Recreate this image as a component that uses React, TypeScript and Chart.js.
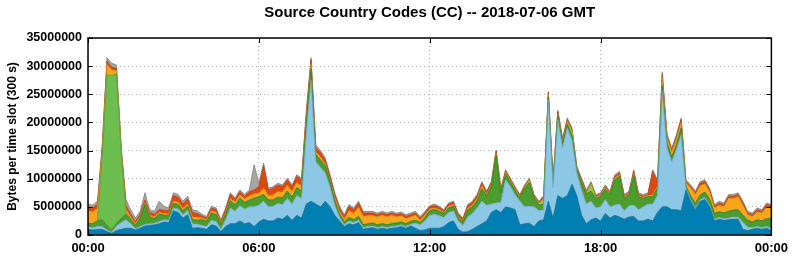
import React, { useEffect, useRef } from 'react';
import { Chart, registerables } from 'chart.js';

Chart.register(...registerables);

// 10-minute slots over the day, 00:00 .. 24:00 (145 points)
const timeLabels: string[] = [];
for (let i = 0; i <= 144; i++) {
  const m = (i * 10) % 1440;
  const h = Math.floor(m / 60);
  const mm = m % 60;
  timeLabels.push(`${String(h).padStart(2, '0')}:${String(mm).padStart(2, '0')}`);
}

const yTickValues = [0, 5000000, 10000000, 15000000, 20000000, 25000000, 30000000, 35000000];

// values in millions of bytes per 300 s slot
const darkBlue = [
  1.0, 0.9, 1.0, 1.0, 0.6, 0.3, 0.8, 1.0, 1.2, 1.2, 0.9, 1.2,
  1.6, 1.7, 1.8, 2.0, 2.3, 2.2, 4.3, 4.0, 3.0, 3.6, 1.2, 1.3,
  1.2, 1.0, 1.8, 1.6, 0.6, 1.5, 2.0, 2.0, 2.5, 2.0, 2.2, 1.5,
  2.3, 2.8, 2.5, 2.5, 3.0, 2.8, 3.5, 2.6, 3.5, 3.0, 5.5, 6.0,
  5.5, 5.0, 6.0, 5.0, 3.5, 2.5, 1.5, 2.0, 1.8, 2.2, 1.0, 1.2,
  1.3, 1.0, 1.2, 1.0, 1.2, 1.3, 1.5, 1.2, 1.6, 1.2, 0.8, 0.9,
  1.2, 1.2, 1.2, 1.5, 2.2, 2.5, 1.0, 0.5, 0.6, 1.0, 1.5, 2.0,
  2.5, 4.0, 4.5, 4.0, 5.0, 4.8, 4.5, 1.8, 2.0, 2.1, 1.5, 2.5,
  2.7, 6.0, 3.0, 7.0, 6.5, 7.0, 9.0, 7.0, 3.5, 2.0, 2.7, 3.0,
  2.5, 3.8, 3.0, 3.5, 3.2, 2.8, 3.2, 3.3, 2.5, 2.5, 2.8, 2.5,
  4.0, 5.0, 5.0, 4.5, 4.5, 4.3, 8.0, 6.0, 4.5, 6.0, 6.3, 5.0,
  2.5, 2.8, 2.6, 2.7, 2.8, 2.8, 1.0, 0.8, 1.0, 1.2, 1.0, 1.2,
  0.8,
];

const lightBlue = [
  0.4, 0.4, 0.5, 0.5, 0.3, 0.2, 0.8, 1.2, 1.5, 0.8, 0.2, 0.3,
  0.3, 0.3, 0.3, 0.4, 0.4, 0.4, 0.5, 0.6, 0.6, 0.8, 0.8, 0.6,
  0.5, 0.5, 0.8, 0.8, 0.4, 1.2, 2.8, 2.2, 2.7, 2.6, 2.8, 3.5,
  3.0, 3.2, 2.5, 2.6, 2.6, 2.6, 3.0, 2.9, 3.5, 3.5, 12.5, 21.5,
  7.5, 7.0, 5.0, 3.5, 1.8, 0.6, 0.3, 0.5, 0.4, 0.4, 0.3, 0.3,
  0.3, 0.3, 0.3, 0.3, 0.3, 0.3, 0.3, 0.3, 0.3, 0.9, 1.0, 1.6,
  2.3, 2.5, 2.2, 1.6, 1.8, 1.8, 1.5, 1.2, 2.6, 2.8, 3.3, 4.0,
  2.8, 1.5, 1.2, 1.8, 4.8, 3.8, 2.6, 4.2, 3.0, 3.0, 3.5, 1.8,
  1.8, 18.0, 5.5, 13.5, 9.0, 12.0, 7.8, 4.0, 4.5, 3.5, 3.3, 1.8,
  2.5, 2.5, 2.0, 1.8, 2.3, 1.5, 2.0, 2.0, 2.0, 2.5, 2.7, 3.0,
  3.0, 20.5, 10.5, 8.5, 10.7, 13.5, 0.3, 0.3, 0.3, 0.3, 0.3, 0.3,
  0.3, 0.3, 0.3, 0.3, 0.4, 0.4, 1.2, 0.6, 0.3, 0.3, 0.3, 0.3,
  0.3,
];

const darkGreen = [
  0.6, 0.7, 1.0, 1.2, 0.8, 0.4, 0.5, 0.8, 1.0, 0.8, 0.6, 1.5,
  3.5, 1.2, 0.8, 1.3, 0.8, 0.8, 0.8, 0.8, 0.7, 0.7, 0.7, 0.7,
  1.0, 0.9, 1.3, 1.2, 0.8, 1.0, 1.3, 1.1, 1.3, 1.2, 1.2, 1.5,
  1.5, 1.2, 1.2, 1.1, 1.1, 1.2, 1.3, 1.2, 1.4, 1.3, 2.0, 2.0,
  1.3, 1.3, 1.2, 1.0, 0.8, 0.6, 0.5, 0.6, 0.5, 0.7, 0.5, 0.5,
  0.5, 0.5, 0.5, 0.5, 0.5, 0.5, 0.5, 0.5, 0.5, 0.5, 0.4, 0.6,
  0.8, 0.8, 0.8, 0.7, 0.8, 0.8, 0.6, 0.5, 1.2, 1.2, 1.3, 2.2,
  1.6, 3.2, 8.5, 1.7, 1.0, 0.8, 0.8, 0.6, 3.3, 4.2, 1.6, 1.0,
  1.0, 0.5, 0.6, 0.7, 0.7, 0.7, 0.7, 0.5, 1.3, 1.8, 1.8, 1.7,
  1.8, 1.8, 2.2, 4.5, 4.9, 2.2, 1.9, 5.3, 2.2, 1.5, 1.3, 1.3,
  1.3, 1.0, 0.8, 0.8, 0.8, 1.2, 0.3, 0.6, 0.8, 0.8, 1.0, 1.0,
  1.0, 1.0, 1.0, 1.2, 1.2, 1.3, 1.3, 1.2, 1.0, 1.2, 1.2, 1.4,
  1.8,
];

const lightGreen = [
  0, 0, 0, 11.0, 26.8, 27.4, 26.5, 11.5, 0.3, 0, 0, 0,
  0, 0, 0, 0, 0, 0, 0, 0, 0, 0, 0, 0,
  0, 0, 0, 0, 0, 0, 0, 0, 0, 0, 0, 0,
  0, 0, 0, 0, 0, 0, 0, 0, 0, 0, 0, 0,
  0, 0, 0, 0, 0, 0, 0, 0, 0, 0, 0, 0,
  0, 0, 0, 0, 0, 0, 0, 0, 0, 0, 0, 0,
  0, 0, 0, 0, 0, 0, 0, 0, 0, 0, 0, 0,
  0, 0, 0, 0, 0, 0, 0, 0, 0, 0, 0, 0,
  0, 0, 0, 0, 0, 0, 0, 0, 0, 0, 0, 0,
  0, 0, 0, 0, 0, 0, 0, 0, 0, 0, 0, 0,
  0, 0, 0, 0, 0, 0, 0, 0, 0, 0, 0, 0,
  0, 0, 0, 0, 0, 0, 0, 0, 0, 0, 0, 0,
  0,
];

const lime = [
  0, 0, 0, 0, 0, 0, 0, 0, 0, 0, 0, 0,
  0, 0, 0, 0, 0, 0, 0, 0, 0, 0, 0, 0,
  0, 0, 0, 0, 0, 0, 0, 0, 0, 0, 0, 0,
  0, 0, 0, 0, 0, 0, 0, 0, 0, 0, 0, 0,
  0, 0, 0, 0, 0, 0, 0, 0, 0, 0, 0, 0,
  0, 0, 0.2, 0, 0.3, 0, 0, 0, 0, 0, 0, 0,
  0, 0, 0, 0, 0, 0, 0, 0, 0, 0, 0, 0,
  0, 0, 0, 0, 0, 0, 0, 0, 0, 0.4, 0, 0.2,
  0.8, 0, 0, 0, 0, 0.2, 0.8, 0, 0, 0, 1.2, 0,
  0, 0, 0, 0, 0, 0, 0, 0, 0, 0, 0, 0,
  0, 0, 0, 0, 0, 0, 0, 0, 0, 0, 0, 0,
  0, 0, 0, 0, 0, 0, 0, 0, 0, 0, 0, 0,
  0,
];

const orange = [
  2.3, 2.1, 2.2, 1.3, 1.8, 1.0, 0.6, 0.4, 0.6, 0.4, 0.3, 0.3,
  0.3, 0.3, 0.3, 0.3, 0.3, 0.3, 0.4, 0.4, 0.4, 0.4, 0.5, 0.5,
  0.3, 0.3, 0.4, 0.4, 0.3, 0.3, 0.4, 0.5, 0.6, 0.6, 0.7, 0.8,
  0.6, 1.1, 0.8, 0.9, 1.0, 1.0, 1.0, 1.0, 0.9, 0.9, 0.8, 0.9,
  0.5, 0.5, 0.4, 0.3, 0.5, 0.5, 0.5, 1.2, 1.1, 1.6, 1.5, 1.4,
  1.3, 1.4, 1.3, 1.4, 1.2, 1.1, 1.1, 0.9, 0.8, 0.9, 0.4, 0.4,
  0.3, 0.3, 0.3, 0.2, 0.3, 0.3, 0.2, 0.2, 0.3, 0.3, 0.4, 0.5,
  0.3, 0.3, 0.3, 0.3, 0.3, 0.3, 0.3, 0.2, 0.2, 0.1, 0.2, 0.1,
  0.2, 0.4, 0.3, 0.3, 0.3, 0.3, 0.2, 0.2, 0.2, 0.2, 0.1, 0.2,
  0.2, 0.3, 0.2, 0.3, 0.3, 0.2, 0.2, 0.3, 0.2, 0.2, 0.2, 0.3,
  0.3, 1.5, 1.0, 0.9, 1.0, 1.0, 0.6, 1.4, 1.6, 1.6, 1.5, 1.3,
  1.0, 1.2, 1.1, 2.3, 2.1, 2.3, 1.8, 1.0, 1.0, 1.4, 1.4, 2.0,
  1.8,
];

const red = [
  0.7, 0.7, 0.8, 0.6, 0.6, 0.5, 0.4, 0.3, 0.7, 0.5, 0.4, 0.4,
  0.5, 0.5, 0.5, 0.5, 0.6, 0.6, 1.0, 0.9, 0.8, 0.9, 0.8, 0.7,
  0.4, 0.3, 0.5, 0.5, 0.3, 0.5, 0.7, 0.5, 0.6, 0.5, 0.8, 0.7,
  1.2, 4.0, 1.0, 1.2, 1.2, 1.0, 1.0, 0.9, 1.1, 1.1, 0.8, 0.7,
  0.8, 0.8, 0.7, 0.6, 0.6, 0.6, 0.5, 0.8, 0.7, 0.8, 0.6, 0.5,
  0.5, 0.4, 0.4, 0.4, 0.4, 0.4, 0.4, 0.4, 0.4, 0.4, 0.4, 0.4,
  0.4, 0.4, 0.4, 0.3, 0.4, 0.4, 0.4, 0.4, 0.5, 0.5, 0.5, 0.5,
  0.4, 0.3, 0.4, 0.3, 0.3, 0.2, 0.2, 0.2, 0.2, 0.1, 0.2, 0.2,
  0.2, 0.4, 0.4, 0.4, 0.4, 0.3, 0.2, 0.3, 0.3, 0.2, 0.1, 0.2,
  0.2, 0.2, 0.1, 0.3, 0.3, 0.2, 0.2, 0.4, 0.3, 0.2, 0.2, 4.2,
  0.9, 0.5, 0.4, 0.4, 0.5, 0.5, 0.3, 0.3, 0.3, 0.5, 0.4, 0.4,
  0.3, 0.4, 0.4, 0.4, 0.4, 0.4, 0.4, 0.3, 0.3, 0.4, 0.3, 0.5,
  0.4,
];

const gray = [
  0.5, 0.5, 0.5, 0.4, 0.6, 0.7, 0.6, 0.4, 1.0, 0.8, 0.6, 0.5,
  1.3, 0.5, 0.5, 1.5, 0.7, 0.5, 0.5, 0.5, 0.5, 0.5, 0.5, 0.5,
  0.3, 0.3, 0.3, 0.3, 0.3, 0.3, 0.3, 0.3, 0.3, 0.3, 0.3, 4.5,
  0.6, 0.5, 0.3, 0.3, 0.3, 0.3, 0.3, 0.3, 0.3, 0.3, 0.4, 0.4,
  0.4, 0.4, 0.4, 0.3, 0.3, 0.3, 0.3, 0.3, 0.3, 0.3, 0.3, 0.3,
  0.3, 0.3, 0.3, 0.3, 0.3, 0.3, 0.3, 0.3, 0.3, 0.3, 0.3, 0.3,
  0.2, 0.3, 0.2, 0.2, 0.2, 0.2, 0.2, 0.2, 0.2, 0.2, 0.2, 0.3,
  0.2, 0.2, 0.2, 0.2, 0.2, 0.2, 0.2, 0.2, 0.2, 0.2, 0.2, 0.2,
  0.3, 0.2, 0.2, 0.3, 0.3, 0.3, 0.3, 0.2, 0.3, 0.3, 0.3, 0.3,
  0.3, 0.3, 0.3, 0.3, 0.3, 0.3, 0.3, 0.3, 0.3, 0.3, 0.3, 0.3,
  0.3, 0.5, 0.3, 0.3, 0.3, 0.3, 0.3, 0.3, 0.3, 0.3, 0.3, 0.3,
  0.3, 0.3, 0.3, 0.3, 0.3, 0.3, 0.3, 0.3, 0.3, 0.3, 0.3, 0.3,
  0.3,
];

const seriesList = [
  { name: 'darkBlue', data: darkBlue, fill: '#0080b2', line: '#1c6a8c' },
  { name: 'lightBlue', data: lightBlue, fill: '#8dc7e6', line: '#6fa6c4' },
  { name: 'darkGreen', data: darkGreen, fill: '#4c9c2e', line: '#3f7f28' },
  { name: 'lightGreen', data: lightGreen, fill: '#6ebd4f', line: '#5a9f42' },
  { name: 'lime', data: lime, fill: '#9bd043', line: '#86b53a' },
  { name: 'orange', data: orange, fill: '#f8a51c', line: '#d88a12' },
  { name: 'red', data: red, fill: '#de4a0e', line: '#b83c0c' },
  { name: 'gray', data: gray, fill: '#a6a6a6', line: '#7d7d7d' },
];

const TITLE = 'Source Country Codes (CC) -- 2018-07-06 GMT';
const FONT = '"Liberation Sans", Arial, Helvetica, sans-serif';

const framePlugin = {
  id: 'frame',
  afterDraw(chart: any) {
    const { ctx, chartArea } = chart;
    const { left, right, top, bottom } = chartArea;
    const xs = chart.scales.x;
    const ys = chart.scales.y;
    ctx.save();
    ctx.strokeStyle = '#000';
    ctx.lineWidth = 1.5;
    ctx.strokeRect(left, top, right - left, bottom - top);
    ctx.lineWidth = 1;
    ctx.beginPath();
    ys.ticks.forEach((t: any) => {
      const y = Math.round(ys.getPixelForValue(t.value)) + 0.5;
      ctx.moveTo(left, y);
      ctx.lineTo(left + 5, y);
      ctx.moveTo(right, y);
      ctx.lineTo(right - 5, y);
    });
    xs.ticks.forEach((t: any) => {
      const x = Math.round(xs.getPixelForValue(t.value)) + 0.5;
      ctx.moveTo(x, top);
      ctx.lineTo(x, top + 5);
      ctx.moveTo(x, bottom);
      ctx.lineTo(x, bottom - 5);
    });
    ctx.stroke();
    ctx.fillStyle = '#000';
    ctx.font = `bold 15px ${FONT}`;
    ctx.textAlign = 'center';
    ctx.textBaseline = 'middle';
    ctx.fillText(TITLE, (left + right) / 2, 13);
    ctx.restore();
  },
};

export default function App() {
  const ref = useRef<HTMLCanvasElement>(null);
  useEffect(() => {
    document.body.style.margin = '0';
    const canvas = ref.current!;
    const chart = new Chart(canvas, {
      type: 'line',
      data: {
        labels: timeLabels,
        datasets: seriesList.map((s, i) => ({
          label: s.name,
          data: s.data.map((v) => v * 1000000),
          backgroundColor: s.fill,
          borderColor: s.line,
          borderWidth: 0.8,
          pointRadius: 0,
          tension: 0,
          fill: i === 0 ? 'origin' : '-1',
        })),
      },
      options: {
        responsive: false,
        animation: false,
        devicePixelRatio: 1,
        layout: { padding: { left: 0, right: 19, top: 38, bottom: 0 } },
        plugins: { legend: { display: false }, tooltip: { enabled: false }, title: { display: false } },
        scales: {
          x: {
            type: 'category',
            offset: false,
            grid: { color: '#b4b4b4', lineWidth: 1, drawTicks: false },
            border: { display: false, dash: [1, 3] },
            ticks: {
              autoSkip: false,
              maxRotation: 0,
              padding: 6,
              color: '#000',
              font: { family: FONT, weight: 'bold', size: 13 },
              callback: (_v: any, i: number) => (i % 36 === 0 ? timeLabels[i] : null),
            },
            afterFit: (s: any) => {
              s.height = 25;
            },
          },
          y: {
            stacked: true,
            min: 0,
            max: 35000000,
            grid: { color: '#b4b4b4', lineWidth: 1, drawTicks: false },
            border: { display: false, dash: [1, 3] },
            ticks: {
              stepSize: 5000000,
              padding: 6,
              color: '#000',
              font: { family: FONT, weight: 'bold', size: 12.5 },
              callback: (v: any) => (yTickValues.includes(Number(v)) ? String(v) : null),
            },
            title: {
              display: true,
              text: 'Bytes per time slot (300 s)',
              color: '#000',
              font: { family: FONT, weight: 'bold', size: 12 },
              padding: { top: 5, bottom: 0 },
            },
            afterFit: (s: any) => {
              s.width = 88;
            },
          },
        },
      },
      plugins: [framePlugin],
    } as any);
    return () => chart.destroy();
  }, []);
  return (
    <div style={{ width: 794, height: 260 }}>
      <canvas ref={ref} width={794} height={260} style={{ display: 'block' }} />
    </div>
  );
}
